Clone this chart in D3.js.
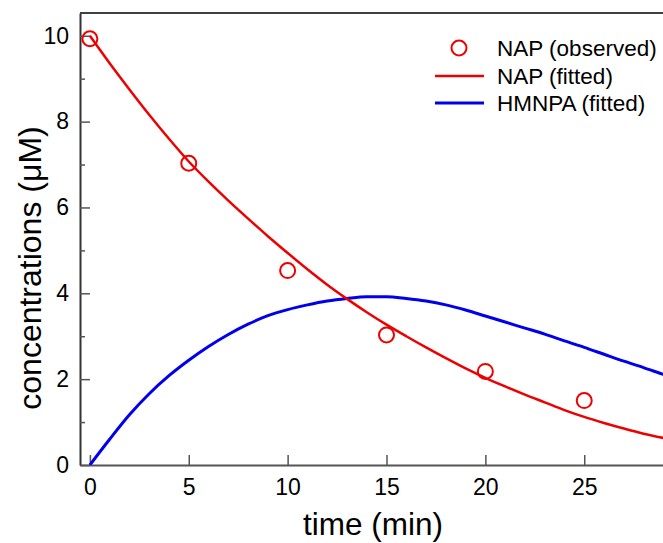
<!DOCTYPE html>
<html>
<head>
<meta charset="utf-8">
<script src="https://cdn.jsdelivr.net/npm/d3@7"></script>
<style>
  html, body { margin: 0; padding: 0; background: #fff; }
  svg { display: block; font-family: "Liberation Sans", Arial, sans-serif; }
</style>
</head>
<body>
<svg id="chart" width="663" height="543"></svg>
<script>
// ---- data ----
const obsTime = [0, 5, 10, 15, 20, 25];
const obsNAP = [9.93, 7.03, 4.53, 3.03, 2.18, 1.50];

const fitTime = [0,1,2,3,4,5,6,7,8,9,10,11,12,13,14,15,16,17,18,19,20,21,22,23,24,25,26,27,28,29,30];
const fitNAP = [10.00,9.36,8.75,8.16,7.60,7.07,6.60,6.16,5.74,5.33,4.94,4.56,4.20,3.87,3.56,3.27,3.00,2.74,2.49,2.25,2.03,1.83,1.64,1.46,1.28,1.12,0.98,0.85,0.73,0.63,0.54];
const fitHMNPA = [0.00,0.60,1.17,1.66,2.08,2.44,2.76,3.04,3.28,3.48,3.62,3.73,3.82,3.88,3.92,3.92,3.88,3.82,3.73,3.61,3.47,3.33,3.19,3.05,2.89,2.74,2.58,2.42,2.27,2.11,1.96];

const xTicks = [0, 5, 10, 15, 20, 25];
const yTicks = [0, 2, 4, 6, 8, 10];
const yMinorTicks = [1, 3, 5, 7, 9];

const legendLabels = ["NAP (observed)", "NAP (fitted)", "HMNPA (fitted)"];

// ---- layout ----
const svg = d3.select("#chart");
const mLeft = 80, mTop = 13, mBottom = 465;
const x = d3.scaleLinear().domain([-0.5, 30]).range([mLeft, 90 + 30 * 19.77]);
const y = d3.scaleLinear().domain([0, 10.53]).range([mBottom, mTop]);
const axisColor = "#555";
const red = "#ee0000", blue = "#0000ee";
const FONT = "Liberation Sans, Arial, sans-serif";

svg.append("clipPath").attr("id", "clip").append("rect")
  .attr("x", mLeft).attr("y", mTop).attr("width", 700).attr("height", mBottom - mTop);

// frame: top border
svg.append("line").attr("x1", mLeft).attr("x2", 700).attr("y1", mTop).attr("y2", mTop)
  .attr("stroke", "#000").attr("stroke-width", 1.5);

// x axis
const xAxis = d3.axisBottom(x).tickValues(xTicks).tickSizeInner(-10).tickSizeOuter(0).tickPadding(14);
const gx = svg.append("g").attr("transform", `translate(0,${mBottom})`).call(xAxis);
gx.select(".domain").attr("stroke", axisColor).attr("stroke-width", 2);
gx.selectAll(".tick line").attr("stroke", axisColor).attr("stroke-width", 1.5);
gx.selectAll(".tick text").attr("font-size", 23).attr("fill", "#000").attr("font-family", FONT);

// y axis
const yAxis = d3.axisLeft(y).tickValues(yTicks).tickSizeInner(-10).tickSizeOuter(0).tickPadding(11);
const gy = svg.append("g").attr("transform", `translate(${mLeft},0)`).call(yAxis);
gy.select(".domain").attr("stroke", "#333").attr("stroke-width", 2);
gy.selectAll(".tick line").attr("stroke", axisColor).attr("stroke-width", 1.5);
gy.selectAll(".tick text").attr("font-size", 23).attr("fill", "#000").attr("font-family", FONT);

const yMinor = d3.axisLeft(y).tickValues(yMinorTicks).tickSizeInner(-5).tickSizeOuter(0).tickFormat("");
const gym = svg.append("g").attr("transform", `translate(${mLeft},0)`).call(yMinor);
gym.select(".domain").remove();
gym.selectAll(".tick line").attr("stroke", axisColor).attr("stroke-width", 1.5);

// axis titles
svg.append("text").attr("x", 373).attr("y", 535).attr("text-anchor", "middle")
  .attr("font-size", 31.5).attr("fill", "#000").text("time (min)");
svg.append("text").attr("transform", "translate(41,268) rotate(-90)").attr("text-anchor", "middle")
  .attr("font-size", 32).attr("fill", "#000").text("concentrations (\u03BCM)");

// curves
const plot = svg.append("g").attr("clip-path", "url(#clip)");
const line = d3.line().x(d => x(d[0])).y(d => y(d[1])).curve(d3.curveMonotoneX);

plot.append("path").datum(fitTime.map((t, i) => [t, fitHMNPA[i]]))
  .attr("d", line).attr("fill", "none").attr("stroke", blue).attr("stroke-width", 3);
plot.append("path").datum(fitTime.map((t, i) => [t, fitNAP[i]]))
  .attr("d", line).attr("fill", "none").attr("stroke", red).attr("stroke-width", 2.5);

svg.append("g").selectAll("circle").data(obsTime.map((t, i) => [t, obsNAP[i]])).join("circle")
  .attr("cx", d => x(d[0])).attr("cy", d => y(d[1])).attr("r", 7.5)
  .attr("fill", "none").attr("stroke", red).attr("stroke-width", 2);

// legend
const lg = svg.append("g");
lg.append("circle").attr("cx", 459).attr("cy", 48).attr("r", 7.5)
  .attr("fill", "none").attr("stroke", red).attr("stroke-width", 2);
lg.append("line").attr("x1", 435).attr("x2", 484).attr("y1", 76).attr("y2", 76)
  .attr("stroke", red).attr("stroke-width", 2.5);
lg.append("line").attr("x1", 435).attr("x2", 484).attr("y1", 103).attr("y2", 103)
  .attr("stroke", blue).attr("stroke-width", 3);
lg.selectAll("text").data(legendLabels).join("text")
  .attr("x", 497).attr("y", (d, i) => 56 + i * 27.5)
  .attr("font-size", 22.5).attr("fill", "#000").text(d => d);
</script>
</body>
</html>
